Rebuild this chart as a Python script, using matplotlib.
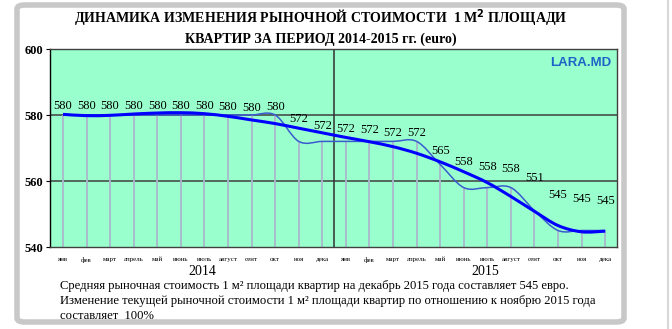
import matplotlib
matplotlib.use("Agg")
import matplotlib.pyplot as plt
from matplotlib.path import Path
from matplotlib.patches import PathPatch, FancyBboxPatch
from matplotlib.lines import Line2D

# ---------------- data ----------------
months = ["янв", "фев", "март", "апрель", "май", "июнь", "июль", "август",
          "сент", "окт", "ноя", "дека"]
years = ["2014", "2015"]
price = [580, 580, 580, 580, 580, 580, 580, 580, 580, 580, 572, 572,
         572, 572, 572, 572, 565, 558, 558, 558, 551, 545, 545, 545]
trend = [580.2, 579.8, 579.9, 580.3, 580.6, 580.7, 580.4, 579.6, 578.5, 577.4,
         576.0, 574.6, 573.2, 571.9, 570.4, 568.4, 565.8, 562.8, 559.5, 555.3,
         550.8, 546.5, 544.6, 544.8]
yticks = [540, 560, 580, 600]

title = "ДИНАМИКА ИЗМЕНЕНИЯ РЫНОЧНОЙ СТОИМОСТИ  1 М$^{\\mathbf{2}}$ ПЛОЩАДИ\nКВАРТИР ЗА ПЕРИОД 2014-2015 гг. (euro)"
note = ["Средняя рыночная стоимость 1 м² площади квартир на декабрь 2015 года составляет 545 евро.",
        "Изменение текущей рыночной стоимости 1 м² площади квартир по отношению к ноябрю 2015 года",
        "составляет  100%"]

# label offsets (pixels above point) - layout only
label_dy = [9, 9, 9, 9, 9, 9, 9, 8, 7, 8, 22, 15, 12, 11, 8, 8, 13, 26, 21, 19, 33, 35, 32, 30]

W, H = 672, 329
fig = plt.figure(figsize=(W / 100, H / 100), dpi=100)
fig.patch.set_facecolor("white")

serif = "Liberation Serif"

# outer rounded frame
frame = FancyBboxPatch((17 / W, 7 / H), 607 / W, 317 / H,
                       boxstyle="round,pad=0,rounding_size=0.012",
                       transform=fig.transFigure, facecolor="white",
                       edgecolor="#c8c8c8", linewidth=4, zorder=0)
fig.patches.append(frame)
fig.add_artist(Line2D([668 / W, 668 / W], [0, 1], transform=fig.transFigure,
                      color="#d8d8d8", linewidth=1.5, zorder=0))

ax = fig.add_axes([50 / W, 1 - 247 / H, 567 / W, 198 / H])
ax.set_zorder(5)
ax.set_facecolor("#99ffcc")
n = len(price)
x = list(range(n))
ax.set_xlim(-0.55, n - 0.5)
ax.set_ylim(540, 600)

# grid lines
for yv in [560, 580]:
    ax.axhline(yv, color="#404040", linewidth=1.1, zorder=1)
ax.axvline(11.5, color="#303030", linewidth=1.1, zorder=1)

# drop lines
ax.vlines(x, 540, price, colors="#a9b8cc", linewidth=1.3, zorder=1)


def smooth_path(xs, ys):
    verts = [(xs[0], ys[0])]
    codes = [Path.MOVETO]
    m = len(xs)
    for i in range(m - 1):
        x0, y0 = xs[max(i - 1, 0)], ys[max(i - 1, 0)]
        x1, y1 = xs[i], ys[i]
        x2, y2 = xs[i + 1], ys[i + 1]
        x3, y3 = xs[min(i + 2, m - 1)], ys[min(i + 2, m - 1)]
        c1 = (x1 + (x2 - x0) / 6, y1 + (y2 - y0) / 6)
        c2 = (x2 - (x3 - x1) / 6, y2 - (y3 - y1) / 6)
        verts += [c1, c2, (x2, y2)]
        codes += [Path.CURVE4] * 3
    return Path(verts, codes)


ax.add_patch(PathPatch(smooth_path(x, price), facecolor="none",
                       edgecolor="#3a5bd0", linewidth=1.1, zorder=3))
ax.add_patch(PathPatch(smooth_path(x, trend), facecolor="none",
                       edgecolor="#0000ff", linewidth=2.2, zorder=4))

for xi, v, dy in zip(x, price, label_dy):
    ax.annotate(str(v), (xi, v), xytext=(0, dy), textcoords="offset pixels",
                ha="center", va="center", fontsize=9, family=serif,
                color="black", zorder=5)

# axes styling
ax.set_yticks(yticks)
ax.set_yticklabels([str(t) for t in yticks], family=serif, fontsize=9,
                   fontweight="bold")
ax.tick_params(axis="y", direction="out", length=3, width=0.8, pad=2)
ax.set_xticks(x)
ax.set_xticklabels([m for _ in years for m in months], family=serif,
                   fontsize=5)
ax.tick_params(axis="x", length=0, pad=7)
for s in ["top", "right", "bottom"]:
    ax.spines[s].set_color("#404040")
    ax.spines[s].set_linewidth(1.0)
ax.spines["left"].set_color("black")
ax.spines["left"].set_linewidth(1.0)

# year labels
for i, yr in enumerate(years):
    ax.text(5.9 + 12 * i, -0.125, yr, transform=ax.get_xaxis_transform(),
            ha="center", va="center", family=serif, fontsize=10)

ax.text(0.99, 0.93, "LARA.MD", transform=ax.transAxes, ha="right",
        va="center", family="Liberation Sans", fontweight="bold",
        fontsize=9.5, color="#1e63c8")

fig.text(321 / W, 1 - 27 / H, title, ha="center", va="center",
         family=serif, fontweight="bold", fontsize=10.1, linespacing=1.3)

for k, line in enumerate(note):
    fig.text(60 / W, 1 - (286 + 15 * k) / H, line, ha="left", va="center",
             family=serif, fontsize=9.1)

fig.savefig("out.png", dpi=100, facecolor="white")
